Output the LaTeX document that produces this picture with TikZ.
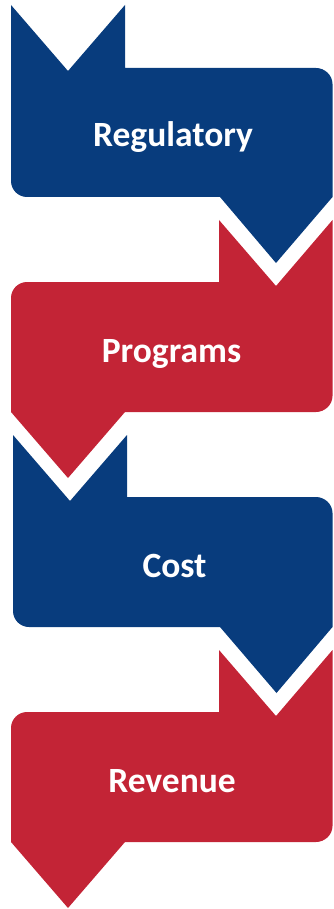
\documentclass[tikz,border=0pt]{standalone}
\usepackage{fontspec}
\setmainfont{Carlito}
\definecolor{stepblue}{HTML}{083C7D}
\definecolor{stepred}{HTML}{C32436}
\begin{document}
\begin{tikzpicture}[x=1pt,y=-1pt,
  lbl/.style={text=white,font=\fontsize{35.5}{38}\selectfont\bfseries,anchor=base,inner sep=0pt}]
\useasboundingbox (0,0) rectangle (333,909);
% Shape 1 (blue)
\fill[stepblue] (11,5) -- (68,71) -- (125,5) -- (125,68) -- (316,68)
  .. controls (324.8,68) and (332.5,75.2) .. (332.5,84) -- (332.5,197)
  -- (276,263) -- (220,197) -- (27,197)
  .. controls (18.2,197) and (11,189.8) .. (11,181) -- cycle;
% Shape 2 (red)
\fill[stepred] (219,220) -- (276,286) -- (332.5,220) -- (332.5,396)
  .. controls (332.5,404.8) and (324.8,412) .. (316,412) -- (125,412)
  -- (68,478) -- (11,412) -- (11,298)
  .. controls (11,289.2) and (18.2,282) .. (27,282) -- (219,282) -- cycle;
% Shape 3 (blue)
\fill[stepblue] (13,435) -- (70,501) -- (127,435) -- (127,497) -- (316,497)
  .. controls (324.8,497) and (332.5,504.2) .. (332.5,513) -- (332.5,627)
  -- (276.5,693) -- (220,627) -- (29,627)
  .. controls (20.2,627) and (13,619.8) .. (13,611) -- cycle;
% Shape 4 (red)
\fill[stepred] (219,650) -- (276,716) -- (332.5,650) -- (332.5,826)
  .. controls (332.5,834.8) and (324.8,842) .. (316,842) -- (125,842)
  -- (68,908) -- (11,842) -- (11,728)
  .. controls (11,719.2) and (18.2,712) .. (27,712) -- (219,712) -- cycle;
\node[lbl] (reg) at (173,147) {Regulatory};
\node[lbl] (prog) at (171.5,362) {Programs};
\node[lbl] (cost) at (174.5,577) {Cost};
\node[lbl] (rev) at (172,792) {Revenue};
\end{tikzpicture}
\end{document}
